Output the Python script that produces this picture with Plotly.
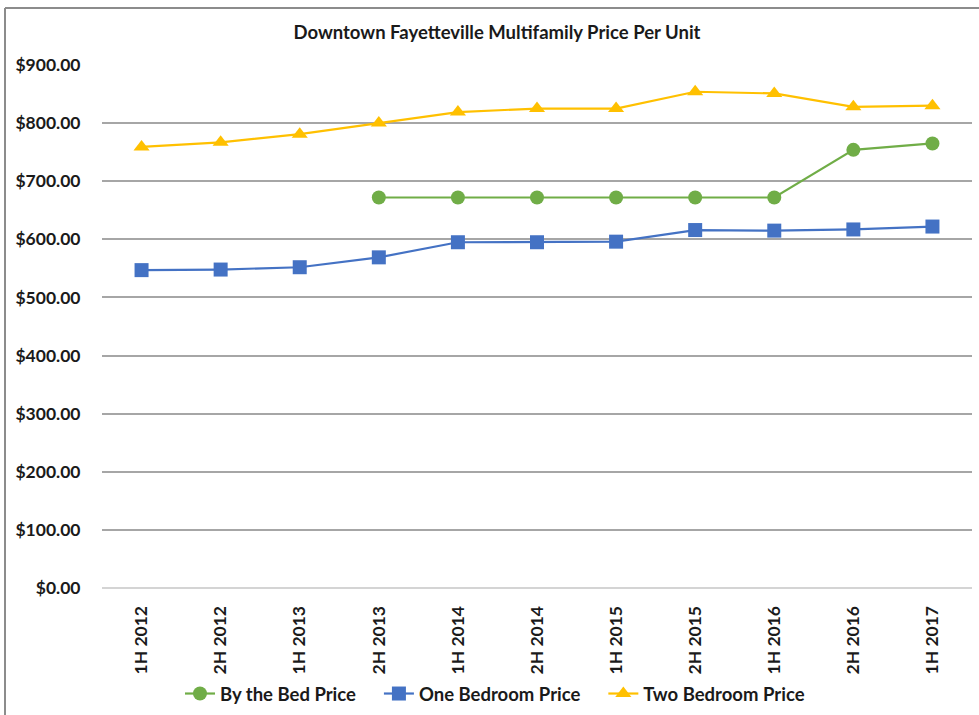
import plotly.graph_objects as go

# Half-year periods and average price per unit for each product type
periods = ["1H 2012", "2H 2012", "1H 2013", "2H 2013", "1H 2014", "2H 2014",
           "1H 2015", "2H 2015", "1H 2016", "2H 2016", "1H 2017"]
by_the_bed = [None, None, None, 672, 672, 672, 672, 672, 672, 754, 765]
one_bedroom = [547, 548, 552, 569, 595, 595, 596, 616, 615, 617, 622]
two_bedroom = [759, 767, 781, 800, 819, 825, 825, 854, 851, 828, 830]

y_ticks = [0, 100, 200, 300, 400, 500, 600, 700, 800, 900]

FONT = "Lato"
W, H = 979, 715
M_L, M_R, M_T, M_B = 102, 7, 65, 127

fig = go.Figure()

# a little extra room after each legend entry except the last
PAD = "\u00a0" * 4
series = [
    ("By the Bed Price" + PAD, by_the_bed, "#70AD47", "circle", 14),
    ("One Bedroom Price" + PAD, one_bedroom, "#4472C4", "square", 14),
    ("Two Bedroom Price", two_bedroom, "#FFC000", "triangle-up", 14),
]
for name, vals, color, sym, size in series:
    fig.add_trace(go.Scatter(
        x=periods, y=vals, name=name, mode="lines+markers",
        line=dict(color=color, width=2.2),
        marker=dict(color=color, symbol=sym, size=size),
        connectgaps=False,
    ))

# outer frame: thin gray rule along the top and left edges
pw = W - M_L - M_R
ph = H - M_T - M_B
def px_to_paper_x(px):
    return (px - M_L) / pw
def py_to_paper_y(py):
    return (H - M_B - py) / ph

frame = dict(type="line", xref="paper", yref="paper",
             line=dict(color="#8C8C8C", width=2), layer="above")
fig.add_shape(**frame, x0=px_to_paper_x(5), x1=px_to_paper_x(985),
              y0=py_to_paper_y(8), y1=py_to_paper_y(8))
fig.add_shape(**frame, x0=px_to_paper_x(5), x1=px_to_paper_x(5),
              y0=py_to_paper_y(8), y1=py_to_paper_y(720))

fig.update_layout(
    width=W, height=H,
    margin=dict(l=M_L, r=M_R, t=M_T, b=M_B, autoexpand=False),
    paper_bgcolor="white", plot_bgcolor="white",
    font=dict(family=FONT, color="#1a1a1a"),
    title=dict(
        text="Downtown Fayetteville Multifamily Price Per Unit",
        x=497 / W, xref="container", xanchor="center",
        y=1 - 33 / H, yref="container", yanchor="middle",
        font=dict(family=FONT, size=18.5, color="#1a1a1a", weight="bold"),
    ),
    showlegend=True,
    legend=dict(
        orientation="h", xref="container", x=495 / W, xanchor="center",
        yref="container", y=(H - 694) / H, yanchor="middle",
        font=dict(family=FONT, size=18.5, color="#1a1a1a", weight="bold"),
        itemwidth=30, bgcolor="rgba(0,0,0,0)",
        tracegroupgap=0,
    ),
    xaxis=dict(
        type="category", categoryorder="array", categoryarray=periods,
        range=[-0.5, len(periods) - 0.5],
        tickangle=-90, automargin=False,
        tickfont=dict(family=FONT, size=17.5, color="#1a1a1a", weight="bold"),
        showgrid=False, showline=False, zeroline=False,
        ticks="outside", ticklen=10, tickcolor="rgba(0,0,0,0)",
    ),
    yaxis=dict(
        range=[0, 900], automargin=False,
        tickvals=y_ticks,
        ticktext=[f"${v:,.2f}" for v in y_ticks],
        tickfont=dict(family=FONT, size=17.5, color="#1a1a1a", weight="bold"),
        showgrid=True, gridcolor="#A6A6A6", gridwidth=1.6,
        zeroline=True, zerolinecolor="#D4D4D4", zerolinewidth=1.6,
        showline=False,
        ticks="outside", ticklen=17, tickcolor="rgba(0,0,0,0)",
    ),
)

fig.write_html("out.html")
